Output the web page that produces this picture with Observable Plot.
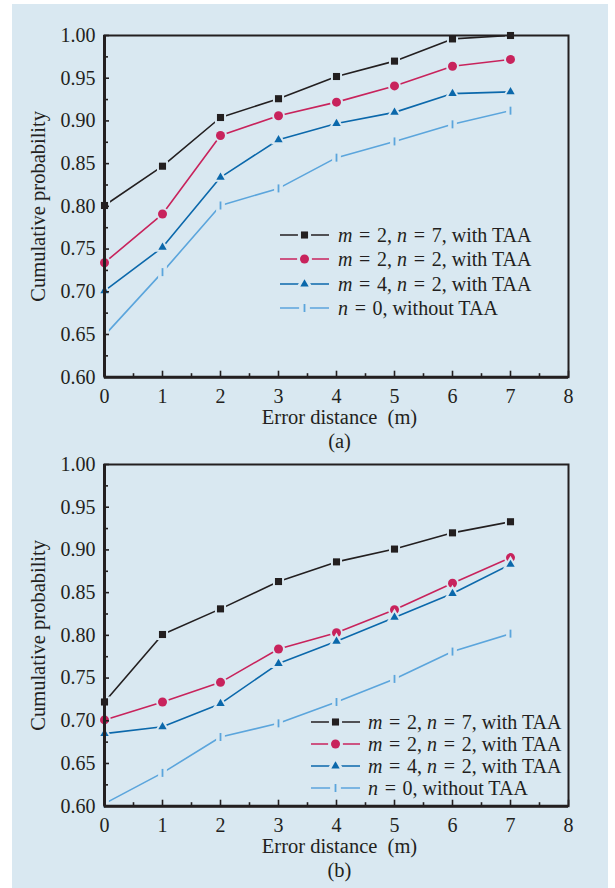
<!DOCTYPE html>
<html>
<head>
<meta charset="utf-8">
<script src="https://cdn.jsdelivr.net/npm/d3@7"></script>
<script src="https://cdn.jsdelivr.net/npm/@observablehq/plot@0.6"></script>
<style>
  html, body { margin: 0; padding: 0; background: #ffffff; }
  #page { position: relative; width: 615px; height: 888px; overflow: hidden; }
  #bg { position: absolute; left: 12px; top: 4px; width: 596px; height: 884px; background: #d9e8f1; }
  .panel { position: absolute; left: 0; }
  .legend { position: absolute; font-family: "Liberation Serif", serif; font-size: 20px; color: #231f20; }
  .row { position: absolute; height: 22px; line-height: 22px; white-space: pre; display: flex; align-items: center; }
  .row svg { display: block; }
</style>
</head>
<body>
<div id="page">
  <div id="bg"></div>
  <div id="panelA" class="panel" style="top:0px"></div>
  <div id="panelB" class="panel" style="top:429px"></div>
  <div id="legendA" class="legend"></div>
  <div id="legendB" class="legend"></div>
</div>
<script>
// ---------------- data ----------------
const errorDistance = [0, 1, 2, 3, 4, 5, 6, 7];

const seriesLabels = [
  "<i>m</i>\u2004=\u20042, <i>n</i>\u2004=\u20047, with TAA",
  "<i>m</i>\u2004=\u20042, <i>n</i>\u2004=\u20042, with TAA",
  "<i>m</i>\u2004=\u20044, <i>n</i>\u2004=\u20042, with TAA",
  "<i>n</i>\u2004=\u20040, without TAA"
];

// Panel (a)
const aM2N7 = [0.801, 0.847, 0.904, 0.926, 0.952, 0.970, 0.996, 1.000];
const aM2N2 = [0.734, 0.791, 0.883, 0.906, 0.922, 0.941, 0.964, 0.972];
const aM4N2 = [0.701, 0.752, 0.834, 0.878, 0.897, 0.910, 0.932, 0.934];
const aN0   = [0.649, 0.723, 0.801, 0.821, 0.857, 0.876, 0.896, 0.912];

// Panel (b)
const bM2N7 = [0.722, 0.801, 0.831, 0.863, 0.886, 0.901, 0.920, 0.933];
const bM2N2 = [0.701, 0.722, 0.745, 0.784, 0.803, 0.830, 0.861, 0.891];
const bM4N2 = [0.685, 0.693, 0.720, 0.767, 0.793, 0.821, 0.849, 0.883];
const bN0   = [0.603, 0.639, 0.681, 0.697, 0.722, 0.749, 0.781, 0.802];

const xTicks = [0, 1, 2, 3, 4, 5, 6, 7, 8];
const xMinorTicks = [0.5, 1.5, 2.5, 3.5, 4.5, 5.5, 6.5, 7.5];
const yTicks = [0.60, 0.65, 0.70, 0.75, 0.80, 0.85, 0.90, 0.95, 1.00];
const yMinorTicks = [0.625, 0.675, 0.725, 0.775, 0.825, 0.875, 0.925, 0.975];

const xLabel = "Error distance\u00a0 (m)";
const yLabel = "Cumulative probability";

// ---------------- styles ----------------
const ink = "#231f20";
const bg = "#d9e8f1";
const colors = ["#231f20", "#c8235c", "#0b68ab", "#5ba5dc"];

const tickSymbol = {
  draw(ctx) {
    ctx.moveTo(-0.9, -4); ctx.lineTo(0.9, -4); ctx.lineTo(0.9, 4); ctx.lineTo(-0.9, 4); ctx.closePath();
  }
};
const symbols = ["square", "circle", "triangle", tickSymbol];
const radii = [4, 4.5, 3.1, 4];
const halos = [4, 4, 4, 7];

const W = 615, ML = 104, MR = 47, MT = 35, PH = 341.7;
const PW = W - ML - MR;

function panel(seriesValues, letter, height) {
  const seriesMarks = [];
  seriesValues.forEach((vals, i) => {
    const rows = errorDistance.map((x, j) => ({x, y: vals[j]}));
    seriesMarks.push(Plot.line(rows, {x: "x", y: "y", stroke: colors[i], strokeWidth: 1.6}));
  });
  seriesValues.forEach((vals, i) => {
    const rows = errorDistance.map((x, j) => ({x, y: vals[j]}));
    seriesMarks.push(Plot.dot(rows, {
      x: "x", y: "y", symbol: symbols[i], r: radii[i],
      fill: colors[i], stroke: bg, strokeWidth: halos[i], paintOrder: "stroke"
    }));
  });
  return Plot.plot({
    width: W, height,
    marginLeft: ML, marginRight: MR, marginTop: MT, marginBottom: height - MT - PH,
    style: {background: "transparent", fontFamily: "'Liberation Serif', serif", fontSize: "20px", color: ink, overflow: "visible"},
    x: {domain: [0, 8], label: null},
    y: {domain: [0.6, 1.0], label: null},
    marks: [
      Plot.axisX(xTicks, {tickSize: 0, tickPadding: 12, tickFormat: d => String(d), fontSize: 20}),
      Plot.axisY(yTicks, {tickSize: 0, tickPadding: 9, tickFormat: d3.format(".2f"), fontSize: 20}),
      ...seriesMarks,
      Plot.tickY(yTicks, {y: d => d, insetRight: PW - 5, stroke: ink, strokeWidth: 1.6}),
      Plot.tickY(yMinorTicks, {y: d => d, insetRight: PW - 4, stroke: ink, strokeWidth: 1.6}),
      Plot.tickX(xTicks, {x: d => d, insetTop: PH - 6, stroke: ink, strokeWidth: 1.6}),
      Plot.tickX(xMinorTicks, {x: d => d, insetTop: PH - 3.5, stroke: ink, strokeWidth: 1.6}),
      Plot.frame({stroke: ink, strokeWidth: 2}),
      Plot.ruleX([0], {stroke: ink, strokeWidth: 3}),
      Plot.ruleY([0.6], {stroke: ink, strokeWidth: 3}),
      Plot.text([xLabel], {frameAnchor: "bottom", dy: 40.5, dx: 3, textAnchor: "middle", lineAnchor: "middle", fontSize: 20.5, fill: ink}),
      Plot.text([letter], {frameAnchor: "bottom", dy: 64.5, dx: 3, textAnchor: "middle", lineAnchor: "middle", fontSize: 20.5, fill: ink}),
      Plot.text([yLabel], {frameAnchor: "left", dx: -66, rotate: -90, textAnchor: "middle", lineAnchor: "middle", fontSize: 20.5, fill: ink})
    ]
  });
}

document.getElementById("panelA").append(panel([aM2N7, aM2N2, aM4N2, aN0], "(a)", 455));
document.getElementById("panelB").append(panel([bM2N7, bM2N2, bM4N2, bN0], "(b)", 455));

// ---------------- legends ----------------
function symbolPath(i) {
  if (i === 3) {
    return "M-0.9,-4L0.9,-4L0.9,4L-0.9,4Z";
  }
  const t = {square: d3.symbolSquare, circle: d3.symbolCircle, triangle: d3.symbolTriangle}[symbols[i]];
  return d3.symbol(t, radii[i] * radii[i] * Math.PI)();
}

function legend(el, left, top, step, sampleW, textGap) {
  el.style.left = left + "px";
  el.style.top = "0px";
  seriesLabels.forEach((lab, i) => {
    const row = document.createElement("div");
    row.className = "row";
    row.style.left = "0px";
    row.style.top = (top + i * step - 11) + "px";
    const svg = d3.create("svg").attr("width", sampleW).attr("height", 22);
    svg.append("line").attr("x1", 0).attr("x2", sampleW).attr("y1", 11).attr("y2", 11)
      .attr("stroke", colors[i]).attr("stroke-width", 1.6);
    svg.append("path").attr("d", symbolPath(i)).attr("transform", `translate(${sampleW / 2},11)`)
      .attr("fill", colors[i]).attr("stroke", bg).attr("stroke-width", halos[i] + 2).attr("paint-order", "stroke");
    row.append(svg.node());
    const span = document.createElement("span");
    span.style.marginLeft = textGap + "px";
    span.innerHTML = lab;
    row.append(span);
    el.append(row);
  });
}
legend(document.getElementById("legendA"), 280, 235, 24.4, 49, 9);
legend(document.getElementById("legendB"), 311, 721.7, 22.2, 49, 8);
</script>
</body>
</html>
